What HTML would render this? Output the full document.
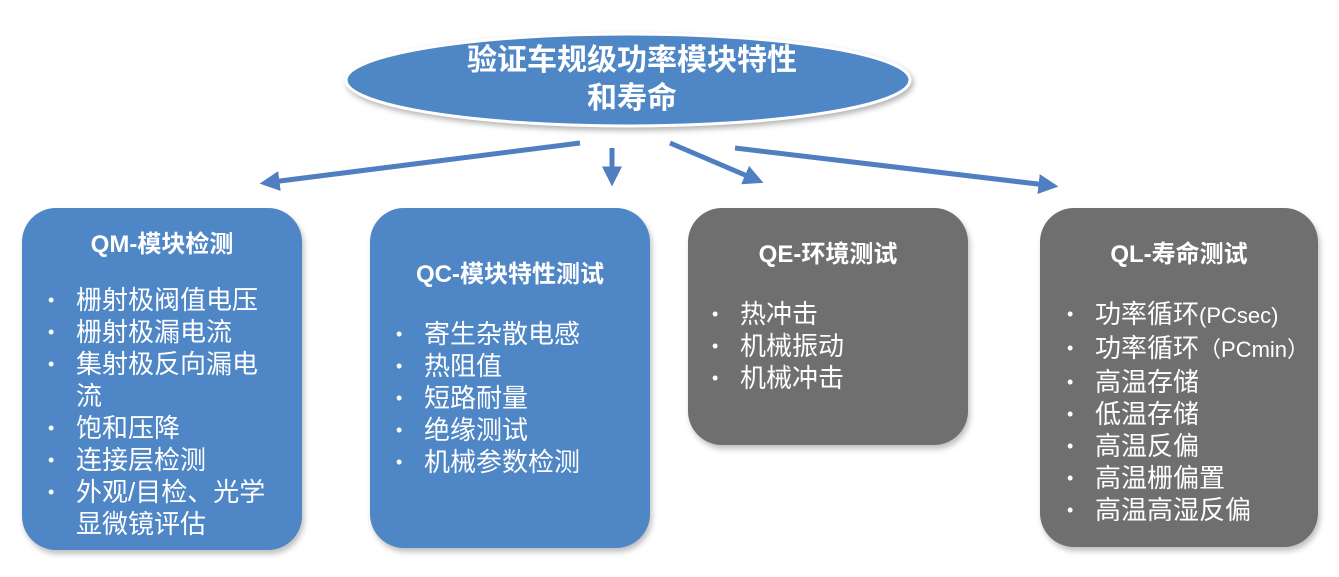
<!DOCTYPE html>
<html><head><meta charset="utf-8"><style>
body{margin:0;width:1339px;height:577px;background:#fff;position:relative;overflow:hidden;font-family:"Liberation Sans","Noto Sans CJK SC",sans-serif;}
.box{position:absolute;border-radius:34px;color:#fff;box-shadow:2px 4px 6px rgba(0,0,0,0.25);}
.blue{background:#4f86c6;}
.gray{background:#6f6f6f;}
.t{position:absolute;left:0;right:0;text-align:center;font-size:24px;font-weight:bold;}
ul{position:absolute;margin:0;padding:0;list-style:none;font-size:26px;line-height:32px;}
li{position:relative;padding-left:28px;}
li:before{content:"•";position:absolute;left:0;font-size:18px;}
.s{font-size:22px;}
</style></head><body>
<svg width="1339" height="577" style="position:absolute;left:0;top:0">
<defs><marker id="a" markerWidth="4" markerHeight="4" refX="1.5" refY="2" orient="auto"><path d="M0,0 L4,2 L0,4z" fill="#4f7fc0"/></marker></defs>
<ellipse cx="628" cy="80" rx="282" ry="46" fill="#4f86c6" stroke="#fff" stroke-width="3" style="filter:drop-shadow(2px 3px 3px rgba(0,0,0,.3))"/>
<g stroke="#4f7fc0" stroke-width="5" marker-end="url(#a)">
<line x1="580" y1="143" x2="272" y2="182"/>
<line x1="612" y1="148" x2="612" y2="174"/>
<line x1="670" y1="143" x2="752" y2="178"/>
<line x1="735" y1="148" x2="1046" y2="185"/>
</g>
<text x="632" y="70" fill="#fff" font-size="30" font-weight="bold" text-anchor="middle" font-family="Liberation Sans,Noto Sans CJK SC,sans-serif">验证车规级功率模块特性</text>
<text x="632" y="108" fill="#fff" font-size="30" font-weight="bold" text-anchor="middle" font-family="Liberation Sans,Noto Sans CJK SC,sans-serif">和寿命</text>
</svg>
<div class="box blue" style="left:22px;top:208px;width:280px;height:342px">
<div class="t" style="top:16px">QM-模块检测</div>
<ul style="left:26px;top:76px;width:220px"><li>栅射极阀值电压</li><li>栅射极漏电流</li><li>集射极反向漏电流</li><li>饱和压降</li><li>连接层检测</li><li>外观/目检、光学显微镜评估</li></ul>
</div>
<div class="box blue" style="left:370px;top:208px;width:280px;height:340px">
<div class="t" style="top:46px">QC-模块特性测试</div>
<ul style="left:26px;top:110px;width:250px"><li>寄生杂散电感</li><li>热阻值</li><li>短路耐量</li><li>绝缘测试</li><li>机械参数检测</li></ul>
</div>
<div class="box gray" style="left:688px;top:208px;width:280px;height:237px">
<div class="t" style="top:26px">QE-环境测试</div>
<ul style="left:24px;top:90px;width:250px"><li>热冲击</li><li>机械振动</li><li>机械冲击</li></ul>
</div>
<div class="box gray" style="left:1040px;top:208px;width:278px;height:339px">
<div class="t" style="top:26px">QL-寿命测试</div>
<ul style="left:27px;top:90px;width:256px;white-space:nowrap"><li>功率循环<span class="s">(PCsec)</span></li><li>功率循环<span class="s">（PCmin）</span></li><li>高温存储</li><li>低温存储</li><li>高温反偏</li><li>高温栅偏置</li><li>高温高湿反偏</li></ul>
</div>
</body></html>
